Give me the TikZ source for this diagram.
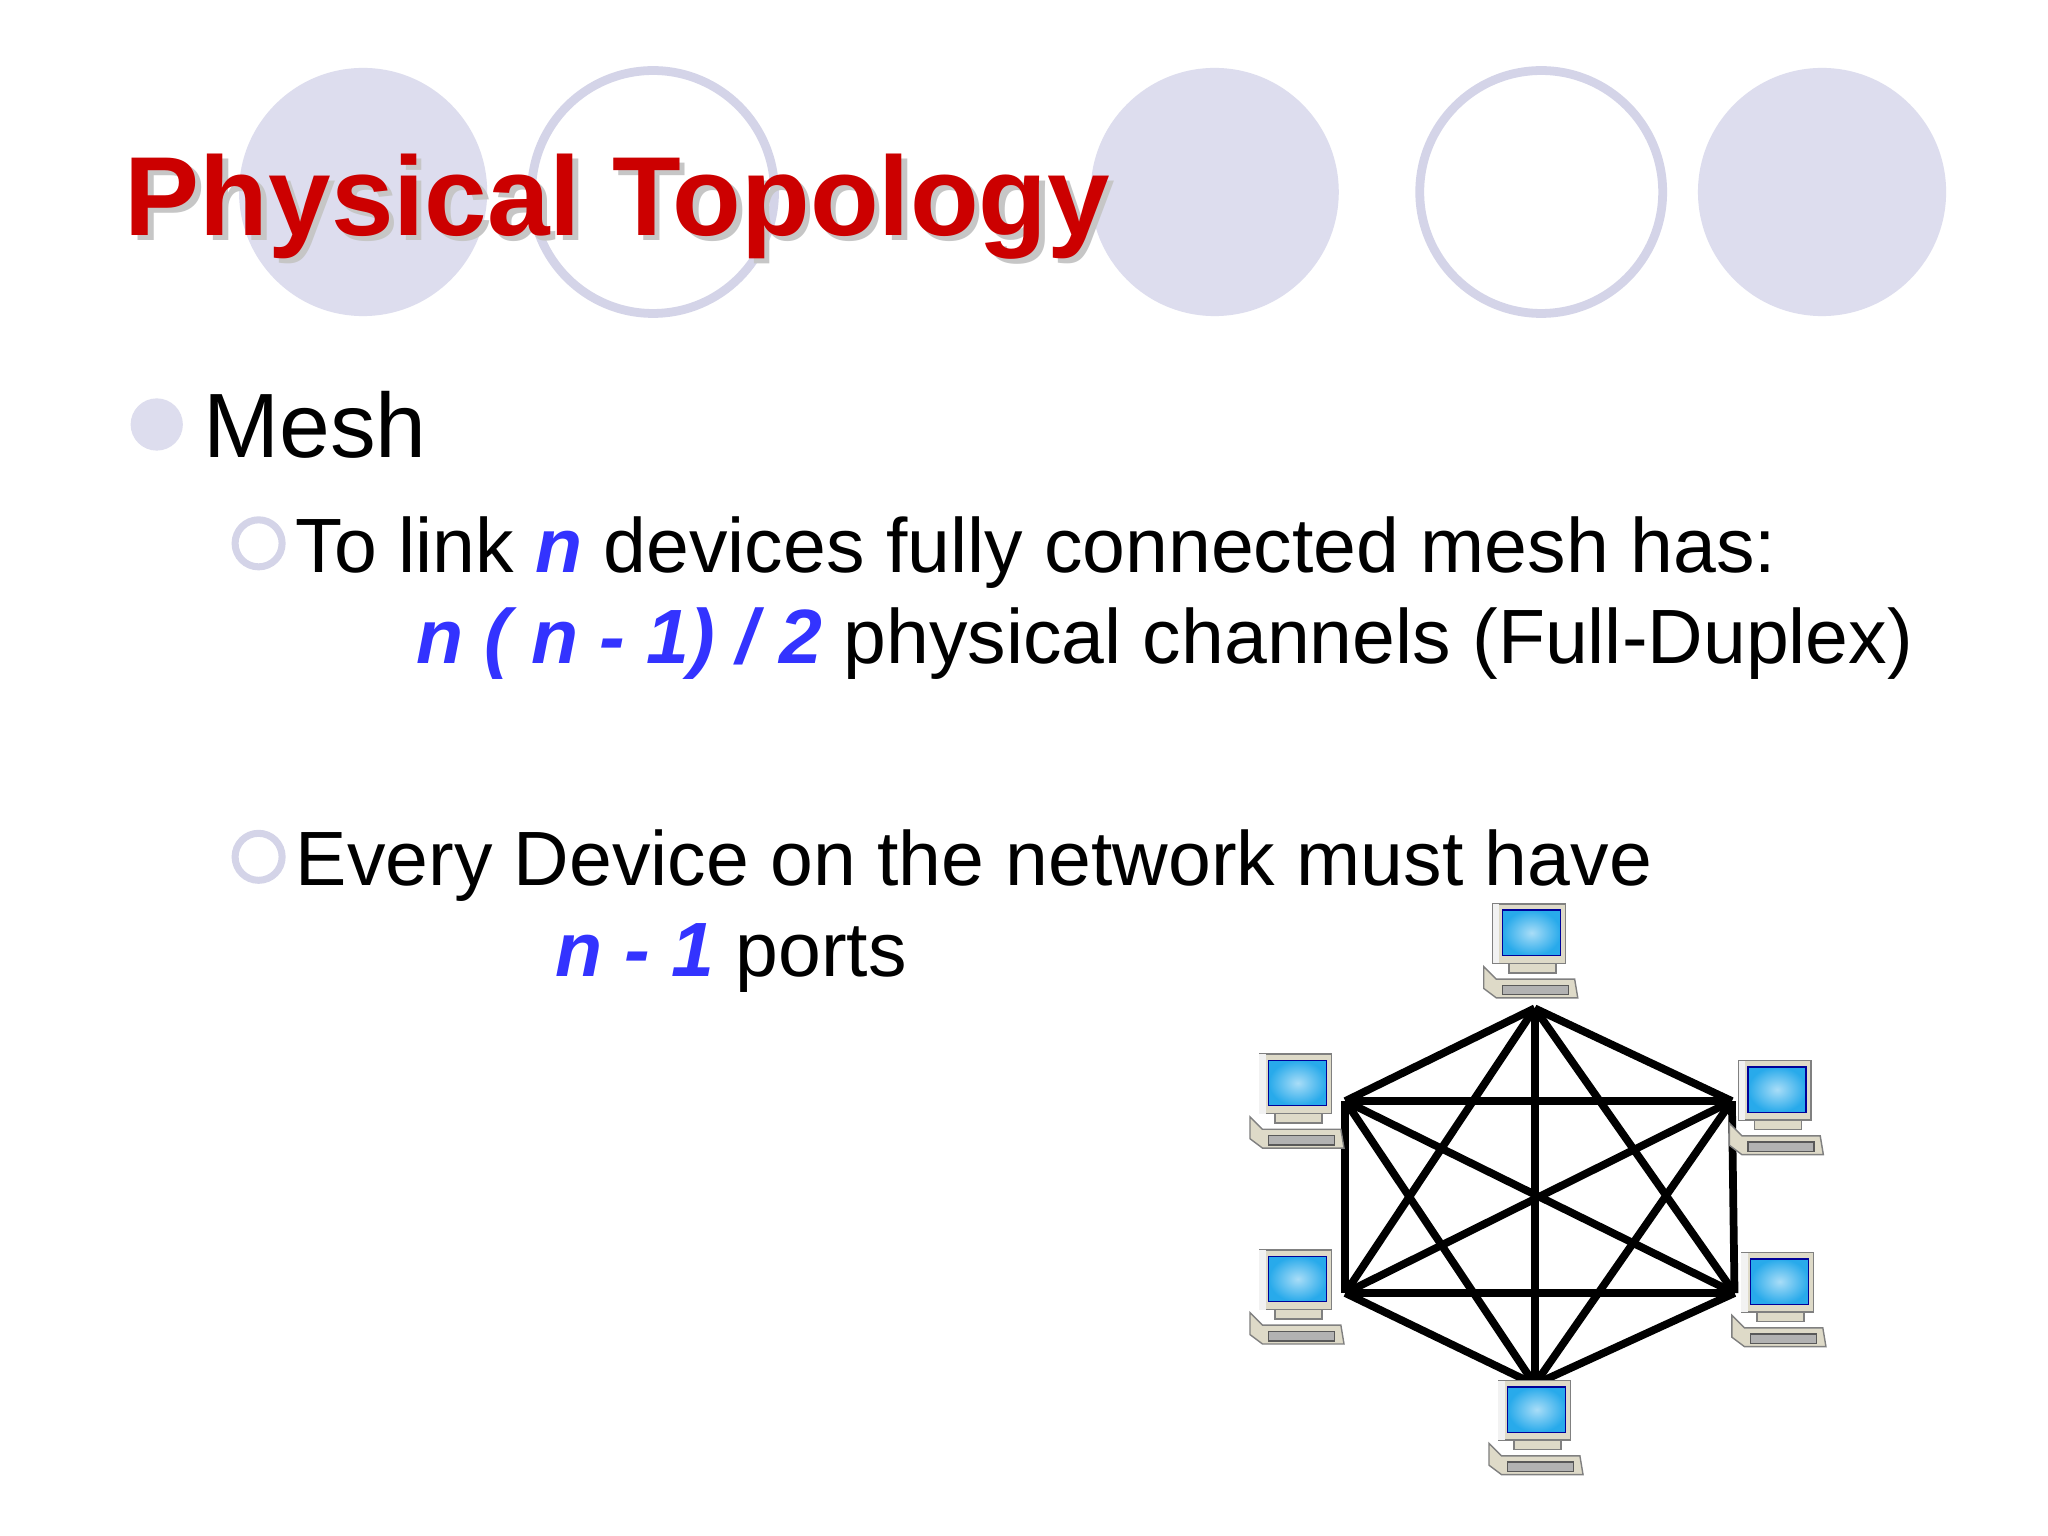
\documentclass[tikz,border=0pt]{standalone}
\usepackage{fontspec}
\setmainfont{Liberation Sans}
\usetikzlibrary{positioning}
\definecolor{lav}{RGB}{221,221,238}
\definecolor{lavline}{RGB}{212,212,232}
\definecolor{titlered}{RGB}{204,0,0}
\definecolor{nblue}{RGB}{51,51,255}
\definecolor{beige}{RGB}{222,218,200}
\definecolor{scr}{RGB}{40,170,235}
\tikzset{
  deco/.style={fill=lav},
  ring/.style={draw=lavline, line width=2.5pt, fill=white},
  body/.style={anchor=base west, inner sep=0pt, font=\fontsize{21.9}{26}\selectfont},
  titletext/.style={anchor=base west, inner sep=0pt, font=\bfseries\fontsize{32}{38}\selectfont},
  link/.style={line width=2.2pt},
  pcnode/.style={minimum width=60pt, minimum height=60pt, inner sep=0pt}
}
% computer icon around a named node
\newcommand{\pcicon}[3]{%
  \node[pcnode] (#1) at (#2,#3) {};
  \begin{scope}[shift={(#2,#3)}, scale=1.2]
    \draw[fill=beige, draw=gray] (-30,10) -- (-22,18) -- (28,18) -- (30,30) -- (-22,30) -- (-30,24) -- cycle;
    \draw[fill=gray!60, draw=gray!70!black] (-18,22) rectangle (24,28);
    \draw[fill=beige, draw=gray] (-24,-30) rectangle (22,8);
    \fill[white!90!gray] (-24,-30) rectangle (-20,8);
    \shade[inner color=scr!40!white, outer color=scr] (-18,-26) rectangle (19,3);
    \draw[blue!60!black] (-18,-26) rectangle (19,3);
    \draw[fill=beige, draw=gray] (-14,8) rectangle (16,14);
  \end{scope}}
\begin{document}
\begin{tikzpicture}[x=0.013061cm, y=-0.013061cm]
\useasboundingbox (0,0) rectangle (1568,1176);
\fill[white] (0,0) rectangle (1568,1176);

% circles behind the title
\fill[deco] (278,147) circle (95);
\draw[ring] (500,147) circle (93);
\fill[deco] (930,147) circle (95);
\draw[ring] (1180,147) circle (93);
\fill[deco] (1395,147) circle (95);

% title with shadow
\node[titletext, text=gray!45] at (99,184) {Physical Topology};
\node[titletext, text=titlered] (title) at (95,180) {Physical Topology};

% bullets
\fill[deco] (120,325) circle (20);
\draw[ring, line width=2pt] (198,416) circle (18);
\draw[ring, line width=2pt] (198,656) circle (18);

% text
\node[body, font=\fontsize{26}{32}\selectfont] (mesh) at (155,350) {Mesh};
\node[body] (l1) at (226,438) {To link \textcolor{nblue}{\bfseries\itshape n} devices fully connected mesh has:};
\node[body] (l2) at (318,508) {\textcolor{nblue}{\bfseries\itshape n ( n - 1) / 2} physical channels (Full-Duplex)};
\node[body] (l3) at (226,678) {Every Device on the network must have};
\node[body] (l4) at (425,748) {\textcolor{nblue}{\bfseries\itshape n - 1} ports};

% hexagon corners
\coordinate (v1) at (1175,772);
\coordinate (v2) at (1326,843);
\coordinate (v3) at (1328,990);
\coordinate (v4) at (1175,1060);
\coordinate (v5) at (1030,990);
\coordinate (v6) at (1030,843);

% full mesh
\foreach \a/\b in {1/2,1/3,1/4,1/5,1/6,2/3,2/4,2/5,2/6,3/4,3/5,3/6,4/5,4/6,5/6}
  \draw[link] (v\a) -- (v\b);

% computers
\pcicon{pc1}{1172}{728}
\pcicon{pc2}{1360}{848}
\pcicon{pc3}{1362}{995}
\pcicon{pc4}{1176}{1093}
\pcicon{pc5}{993}{993}
\pcicon{pc6}{993}{843}

\end{tikzpicture}
\end{document}
